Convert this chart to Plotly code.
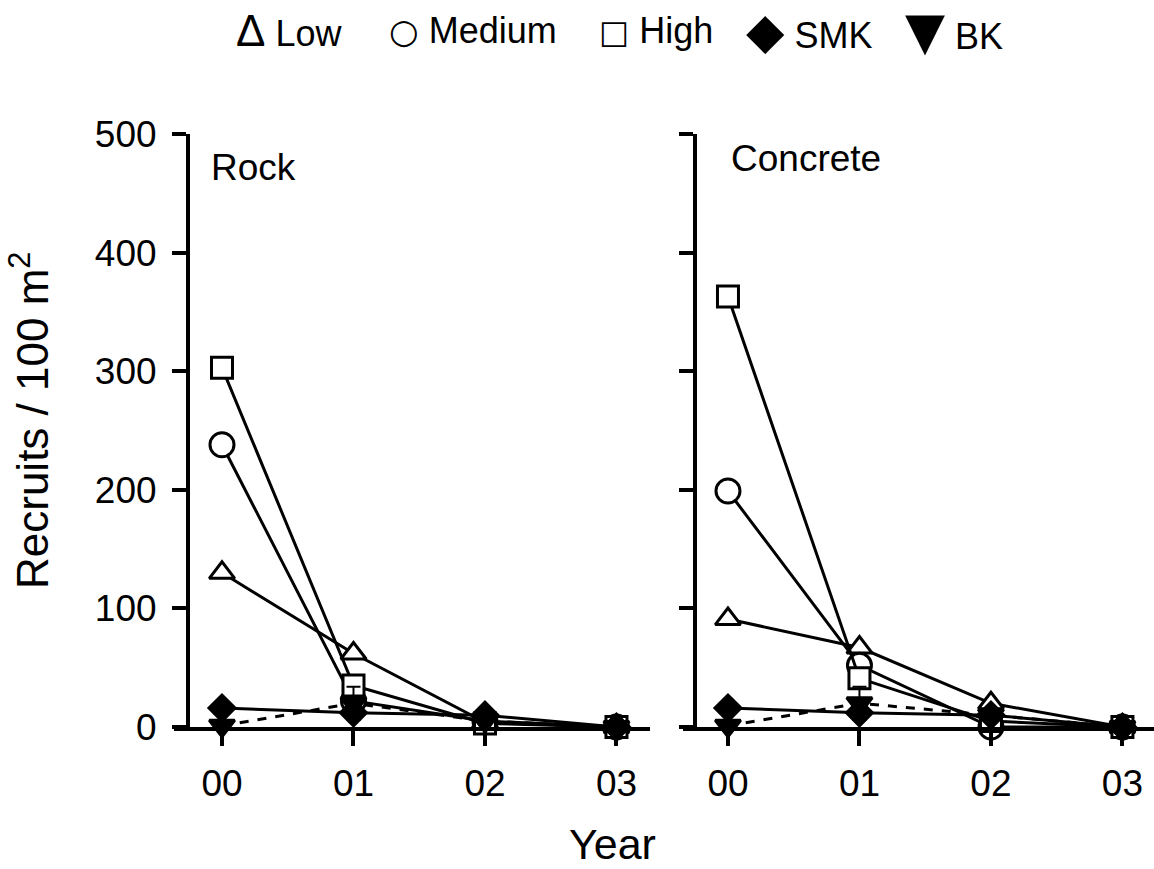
import plotly.graph_objects as go

# Sampling years (tick labels) and recruit densities per 100 m^2
years = [0, 1, 2, 3]
year_labels = ["00", "01", "02", "03"]

series_names = ["Low", "Medium", "High", "SMK", "BK"]
legend_glyphs = ["Δ", "○", "□", "◆", "▼"]

rock_low = [130, 62, 4, 0]
rock_medium = [238, 22, 5, 0]
rock_high = [303, 35, 3, 0]
rock_smk = [16, 12, 10, 0]
rock_bk = [1, 20, 5, 0]
rock_bk_err = [0, 14, 0, 0]

concrete_low = [91, 67, 20, 0]
concrete_medium = [199, 52, 0, 0]
concrete_high = [363, 41, 5, 0]
concrete_smk = [16, 12, 10, 0]
concrete_bk = [1, 20, 10, 0]
concrete_bk_err = [0, 14, 0, 0]

FONT = "Liberation Sans, Arial, DejaVu Sans, sans-serif"
W, H = 1154, 869

styles = {
    "Low": dict(symbol="triangle-up", size=22, color="white", dash="solid"),
    "Medium": dict(symbol="circle", size=24, color="white", dash="solid"),
    "High": dict(symbol="square", size=21, color="white", dash="solid"),
    "SMK": dict(symbol="diamond", size=20, color="black", dash="solid"),
    "BK": dict(symbol="triangle-down", size=22, color="black", dash="dash"),
}

panels = [
    ("x", "y", [rock_low, rock_medium, rock_high, rock_smk, rock_bk], rock_bk_err),
    ("x2", "y2", [concrete_low, concrete_medium, concrete_high, concrete_smk, concrete_bk], concrete_bk_err),
]

fig = go.Figure()
for xa, ya, values, bk_err in panels:
    for name, vals in zip(series_names, values):
        st = styles[name]
        kw = {}
        if name == "BK":
            kw["error_y"] = dict(type="data", array=bk_err, symmetric=True,
                                 color="black", thickness=2, width=7)
        fig.add_trace(go.Scatter(
            x=years, y=vals, name=name, xaxis=xa, yaxis=ya,
            mode="lines+markers", showlegend=False, cliponaxis=False,
            line=dict(color="black", width=3, dash=st["dash"]),
            marker=dict(symbol=st["symbol"], size=st["size"], color=st["color"],
                        line=dict(color="black", width=3)),
            **kw,
        ))

def px_x(p):
    return p / W

def px_y(p):
    return 1 - p / H

y_dom = [px_y(727), px_y(134)]

axis_common = dict(
    showline=True, linecolor="black", linewidth=4, showgrid=False, zeroline=False,
    ticks="outside", tickwidth=4, tickcolor="black", automargin=False,
    tickfont=dict(family=FONT, size=37, color="black"), fixedrange=True,
)

fig.update_layout(
    width=W, height=H, margin=dict(l=0, r=0, t=0, b=0, autoexpand=False),
    autosize=False, paper_bgcolor="white", plot_bgcolor="white", showlegend=False,
    xaxis=dict(domain=[px_x(174), px_x(650)], range=[-0.365, 3.255], anchor="y",
               tickvals=years, ticktext=year_labels, ticklen=15,
               ticklabelstandoff=6, **axis_common),
    yaxis=dict(domain=y_dom, range=[0, 500], anchor="free", position=px_x(188),
               tickvals=[0, 100, 200, 300, 400, 500], ticklen=14,
               ticklabelstandoff=8, **axis_common),
    xaxis2=dict(domain=[px_x(683), 1.0], range=[-0.342, 3.24], anchor="y2",
                tickvals=years, ticktext=year_labels, ticklen=15,
                ticklabelstandoff=6, **axis_common),
    yaxis2=dict(domain=y_dom, range=[0, 500], anchor="free", position=px_x(695),
                tickvals=[0, 100, 200, 300, 400, 500], ticklen=14,
                showticklabels=False, **axis_common),
)

text_font = dict(family=FONT, size=37, color="black")
title_font = dict(family=FONT, size=44, color="black")
annotations = [
    dict(text="Rock", x=px_x(209), y=px_y(168), xanchor="left", yanchor="middle"),
    dict(text="Concrete", x=px_x(729), y=px_y(158), xanchor="left", yanchor="middle"),
    dict(text="Year", x=px_x(612), y=0, xanchor="center", yanchor="bottom",
         borderpad=0, font=dict(family=FONT, size=43, color="black")),
    dict(text="Recruits / 100 m<sup>2</sup>", x=px_x(30), y=px_y(421),
         xanchor="center", yanchor="middle", textangle=-90, font=title_font),
]

# Legend row: symbol glyph followed by the series name
legend_x = [234, 387, 597, 744, 903]
glyph_fonts = [("Liberation Sans", 44), ("DejaVu Sans", 34), ("DejaVu Sans", 32),
               ("DejaVu Sans", 50), ("DejaVu Sans", 52)]
for gx, glyph, (gf, gs), name in zip(legend_x, legend_glyphs, glyph_fonts, series_names):
    annotations.append(dict(
        text=f"<span style='font-family:{gf};font-size:{gs}px'>{glyph}</span> {name}",
        x=px_x(gx), y=px_y(31), xanchor="left", yanchor="middle",
        font=dict(family=FONT, size=36, color="black")))

for a in annotations:
    a.setdefault("font", text_font)
    a.update(xref="paper", yref="paper", showarrow=False)
fig.update_layout(annotations=annotations)

fig.write_html("out.html")
